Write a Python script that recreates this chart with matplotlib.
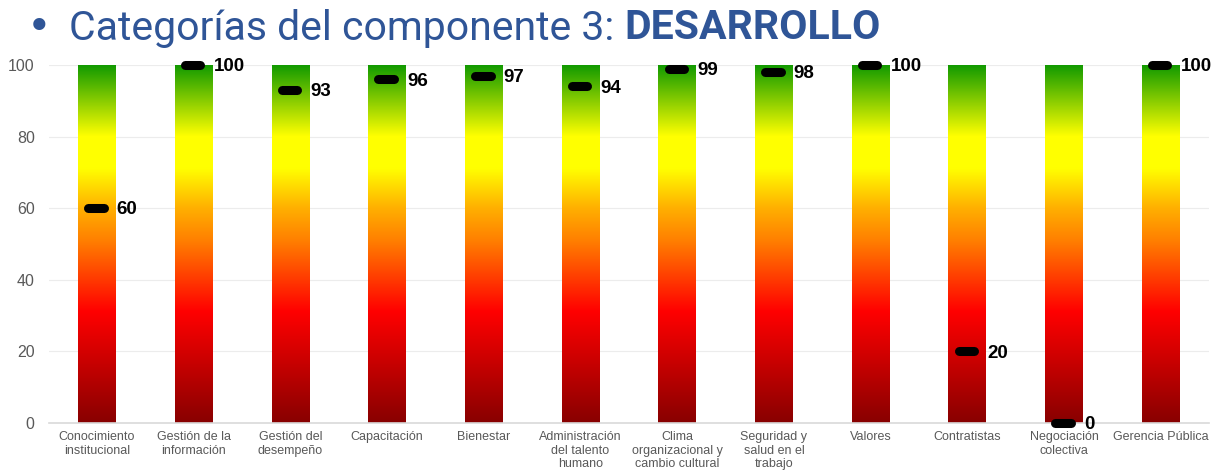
import numpy as np
import matplotlib.pyplot as plt
from matplotlib.colors import LinearSegmentedColormap

# categorias y puntajes del componente 3
categorias = ["Conocimiento\ninstitucional", "Gestión de la\ninformación", "Gestión del\ndesempeño",
              "Capacitación", "Bienestar", "Administración\ndel talento\nhumano",
              "Clima\norganizacional y\ncambio cultural", "Seguridad y\nsalud en el\ntrabajo",
              "Valores", "Contratistas", "Negociación\ncolectiva", "Gerencia Pública"]
puntajes = [60, 100, 93, 96, 97, 94, 99, 98, 100, 20, 0, 100]
y_ticks = [0, 20, 40, 60, 80, 100]

# degradado rojo -> naranja -> amarillo -> verde
semaforo = LinearSegmentedColormap.from_list("semaforo", [
    (0.0, "#880000"), (0.31, "#ff0000"), (0.51, "#ff8000"),
    (0.60, "#ffb000"), (0.71, "#ffff00"), (0.80, "#ffff00"), (1.0, "#109900")])

fig = plt.figure(figsize=(12.25, 4.72), dpi=100)
ax = fig.add_axes([0.0397, 0.1038, 0.9473, 0.7585])

x = np.arange(len(categorias))
ancho = 0.39
grad = np.linspace(0, 1, 256).reshape(-1, 1)
for xi in x:
    ax.imshow(grad, cmap=semaforo, origin="lower", aspect="auto",
              extent=[xi - ancho / 2, xi + ancho / 2, 0, 100], zorder=2)

# marcador del puntaje
ax.hlines(puntajes, x - 0.09, x + 0.07, color="black", lw=6.5,
          capstyle="round", zorder=4, clip_on=False)
for xi, v in zip(x, puntajes):
    ax.text(xi + 0.205, v - 0.5, str(v), fontsize=13.5, fontweight="bold",
            va="center", ha="left", color="black", zorder=5,
            family=["Liberation Sans", "DejaVu Sans"])

ax.set_xlim(-0.5, len(categorias) - 0.5)
ax.set_ylim(0, 100)
ax.set_yticks(y_ticks)
ax.set_xticks(x)
ax.set_xticklabels(categorias, fontsize=9, color="#595959", linespacing=1.15,
                   family=["Liberation Sans", "DejaVu Sans"])
ax.tick_params(axis="y", labelsize=11.5, colors="#595959", length=0, pad=10)
ax.tick_params(axis="x", length=0, pad=6)
for lbl in ax.get_yticklabels():
    lbl.set_family(["Liberation Sans", "DejaVu Sans"])
ax.grid(axis="y", color="#ececec", lw=0.8, zorder=0)
ax.set_axisbelow(True)
for s in ["top", "right", "left"]:
    ax.spines[s].set_visible(False)
ax.spines["bottom"].set_color("#d9d9d9")
ax.spines["bottom"].set_linewidth(1.2)

# titulo
fig.text(0.022, 0.94, "•", fontsize=30, color="#2f5597", va="center", ha="left")
t = fig.text(0.056, 0.94, "Categorías del componente 3: ", fontsize=29.5, color="#2f5597",
             va="center", ha="left", family=["Roboto", "DejaVu Sans"])
fig.canvas.draw()
bb = t.get_window_extent()
fig.text(bb.x1 / fig.bbox.width, 0.94, "DESARROLLO", fontsize=29.5, color="#2f5597",
         fontweight="bold", va="center", ha="left", family=["Roboto", "DejaVu Sans"])

fig.savefig("out.png", dpi=100)
